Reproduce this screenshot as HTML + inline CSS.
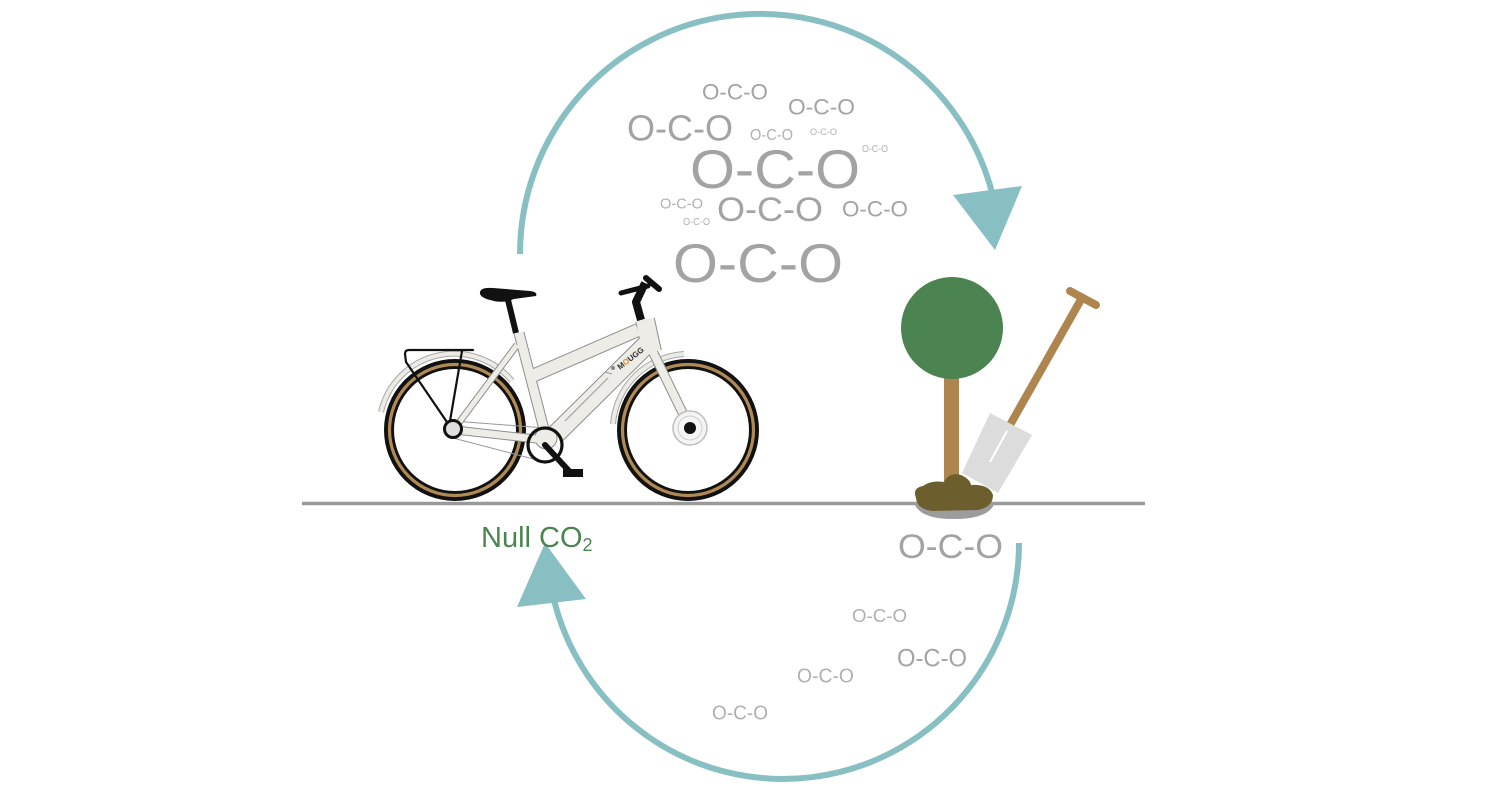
<!DOCTYPE html>
<html>
<head>
<meta charset="utf-8">
<style>
  html,body{margin:0;padding:0;background:#fff;}
  body{width:1500px;height:795px;overflow:hidden;}
  svg{display:block;}
  .m{font-family:"Liberation Sans",sans-serif;fill:#a3a3a3;}
  .s{fill:#b0b0b0;}
</style>
</head>
<body>
<svg width="1500" height="795" viewBox="0 0 1500 795" xmlns="http://www.w3.org/2000/svg">
  <!-- cycle arcs -->
  <path d="M520,254 A240 240 0 0 1 992.4,194" fill="none" stroke="#88bfc3" stroke-width="6"/>
  <polygon points="953,195 1022,186 995,250" fill="#88bfc3"/>
  <path d="M1019,543 A236 236 0 0 1 554,600" fill="none" stroke="#88bfc3" stroke-width="6"/>
  <polygon points="517,607 586,599 545,543" fill="#88bfc3"/>

  <!-- molecules top -->
  <text class="m" x="702" y="99.5" font-size="22.5" textLength="66" lengthAdjust="spacingAndGlyphs">O-C-O</text>
  <text class="m" x="788" y="114.5" font-size="22.5" textLength="67" lengthAdjust="spacingAndGlyphs">O-C-O</text>
  <text class="m" x="627" y="140.5" font-size="36" textLength="106" lengthAdjust="spacingAndGlyphs">O-C-O</text>
  <text class="m s" x="750" y="140" font-size="16" textLength="43" lengthAdjust="spacingAndGlyphs">O-C-O</text>
  <text class="m s" x="810" y="135" font-size="9.5" textLength="27" lengthAdjust="spacingAndGlyphs">O-C-O</text>
  <text class="m s" x="862" y="152" font-size="10.5" textLength="26" lengthAdjust="spacingAndGlyphs">O-C-O</text>
  <text class="m" x="690" y="188" font-size="55" textLength="170" lengthAdjust="spacingAndGlyphs">O-C-O</text>
  <text class="m s" x="660" y="208.5" font-size="14.5" textLength="43" lengthAdjust="spacingAndGlyphs">O-C-O</text>
  <text class="m" x="717" y="221" font-size="34.5" textLength="106" lengthAdjust="spacingAndGlyphs">O-C-O</text>
  <text class="m" x="842" y="216.5" font-size="22.5" textLength="66" lengthAdjust="spacingAndGlyphs">O-C-O</text>
  <text class="m s" x="683" y="225" font-size="10.5" textLength="27" lengthAdjust="spacingAndGlyphs">O-C-O</text>
  <text class="m" x="673" y="282" font-size="55" textLength="170" lengthAdjust="spacingAndGlyphs">O-C-O</text>

  <!-- molecules bottom -->
  <text class="m" x="898" y="558" font-size="34.5" textLength="105" lengthAdjust="spacingAndGlyphs">O-C-O</text>
  <text class="m s" x="852" y="622" font-size="18.5" textLength="55" lengthAdjust="spacingAndGlyphs">O-C-O</text>
  <text class="m" x="897" y="666.5" font-size="25" textLength="70" lengthAdjust="spacingAndGlyphs">O-C-O</text>
  <text class="m s" x="797" y="682.5" font-size="20" textLength="57" lengthAdjust="spacingAndGlyphs">O-C-O</text>
  <text class="m s" x="712" y="719.5" font-size="20" textLength="56" lengthAdjust="spacingAndGlyphs">O-C-O</text>

  <!-- Null CO2 -->
  <text x="481" y="547" font-family="Liberation Sans, sans-serif" font-size="29" fill="#4a8550">Null CO<tspan font-size="18" dy="4">2</tspan></text>

  <!-- ground -->
  <line x1="302" y1="503.5" x2="1145" y2="503.5" stroke="#9a9a9a" stroke-width="3.5"/>

  <!-- ===== BIKE ===== -->
  <!-- fenders -->
  <path d="M381,412 A75 75 0 0 1 512,381" fill="none" stroke="#a8a8a8" stroke-width="6"/>
  <path d="M381,412 A75 75 0 0 1 512,381" fill="none" stroke="#ecebe5" stroke-width="4"/>
  <path d="M613,424 A76 76 0 0 1 684,354" fill="none" stroke="#a8a8a8" stroke-width="6"/>
  <path d="M613,424 A76 76 0 0 1 684,354" fill="none" stroke="#ecebe5" stroke-width="4"/>

  <!-- wheels -->
  <circle cx="455" cy="430" r="66" fill="none" stroke="#111" stroke-width="10"/>
  <circle cx="455" cy="430" r="65.5" fill="none" stroke="#b08a55" stroke-width="3.2"/>
  <circle cx="688" cy="430" r="66" fill="none" stroke="#111" stroke-width="10"/>
  <circle cx="688" cy="430" r="65.5" fill="none" stroke="#b08a55" stroke-width="3.2"/>

  <!-- chain -->
  <line x1="453" y1="421" x2="545" y2="428" stroke="#999" stroke-width="1"/>
  <line x1="453" y1="438" x2="545" y2="462" stroke="#999" stroke-width="1"/>

  <!-- rack -->
  <g stroke="#111" stroke-width="2.2" fill="none" stroke-linecap="round">
    <path d="M473,350 L409,350 Q405,350 405,354 L406,362 L449,425"/>
    <line x1="462" y1="351" x2="450" y2="421"/>
  </g>

  <!-- frame outlines -->
  <g stroke="#8d8d8d" fill="none" stroke-linecap="butt">
    <line x1="517" y1="345" x2="455" y2="428" stroke-width="7"/>
    <line x1="545" y1="440" x2="455" y2="430" stroke-width="9"/>
    <line x1="519" y1="333" x2="546" y2="437" stroke-width="11"/>
    <line x1="638" y1="330" x2="530" y2="377" stroke-width="14"/>
    <line x1="648" y1="343" x2="556" y2="434" stroke-width="20"/>
    <line x1="645" y1="320" x2="652" y2="352" stroke-width="20"/>
    <line x1="652" y1="350" x2="690" y2="428" stroke-width="10"/>
    <circle cx="546" cy="438" r="11" fill="#8d8d8d"/>
  </g>
  <!-- frame fills -->
  <g stroke="#edece6" fill="none" stroke-linecap="butt">
    <line x1="517" y1="345" x2="455" y2="428" stroke-width="5"/>
    <line x1="545" y1="440" x2="455" y2="430" stroke-width="7"/>
    <line x1="519" y1="333" x2="546" y2="437" stroke-width="9"/>
    <line x1="638" y1="330" x2="530" y2="377" stroke-width="12"/>
    <line x1="648" y1="343" x2="556" y2="434" stroke-width="18"/>
    <line x1="645" y1="320" x2="652" y2="352" stroke-width="18"/>
    <line x1="652" y1="350" x2="690" y2="428" stroke-width="8"/>
    <circle cx="546" cy="438" r="10" fill="#edece6"/>
  </g>
  <!-- down tube battery line -->
  <path d="M608,378 L565,421 M612,374 L605,372" stroke="#9a9a9a" stroke-width="1" fill="none"/>
  <circle cx="613" cy="368" r="2" fill="#888"/>
  <text x="620" y="370" font-family="Liberation Sans, sans-serif" font-size="8" font-weight="bold" fill="#333" transform="rotate(-38 620 370)">M<tspan fill="#e08a2a">O</tspan>UGG</text>

  <!-- hubs -->
  <circle cx="453" cy="429" r="8.5" fill="#dedede" stroke="#111" stroke-width="3"/>
  <circle cx="690" cy="428" r="17" fill="#f4f4f4" stroke="#bdbdbd" stroke-width="1.5"/>
  <circle cx="690" cy="428" r="12" fill="none" stroke="#cfcfcf" stroke-width="1"/>
  <circle cx="690" cy="428" r="6" fill="#111"/>

  <!-- chainring / crank -->
  <circle cx="545" cy="445" r="17" fill="none" stroke="#111" stroke-width="3.2"/>
  <line x1="545" y1="445" x2="570" y2="472" stroke="#111" stroke-width="6" stroke-linecap="round"/>
  <rect x="563" y="469" width="20" height="8" fill="#111"/>

  <!-- seatpost & saddle -->
  <line x1="508" y1="300" x2="516" y2="333" stroke="#111" stroke-width="6"/>
  <path d="M480,292 Q481,287 493,288 L530,291 Q538,292 536,296 L514,299 Q502,304 490,300 Q479,297 480,292 Z" fill="#111"/>

  <!-- stem & handlebar -->
  <path d="M641,320 L636,302 L645,283" fill="none" stroke="#111" stroke-width="8" stroke-linejoin="round"/>
  <line x1="621" y1="293" x2="648" y2="286" stroke="#111" stroke-width="5" stroke-linecap="round"/>
  <line x1="646" y1="278" x2="659" y2="289" stroke="#111" stroke-width="6" stroke-linecap="round"/>

  <!-- ===== TREE & SHOVEL ===== -->
  <path d="M914,502 Q918,519 954,519 Q990,519 995,502 Z" fill="#9c9c9c"/>
  <rect x="944" y="374" width="15" height="118" fill="#ae854e"/>
  <circle cx="952" cy="328" r="51" fill="#4b8450"/>
  <line x1="1083" y1="296" x2="1010" y2="425" stroke="#ae854e" stroke-width="8"/>
  <line x1="1070" y1="291" x2="1096" y2="305" stroke="#ae854e" stroke-width="8" stroke-linecap="round"/>
  <polygon points="990,413 1032,435 998,493 962,473" fill="#dcdcdc"/>
  <line x1="1007" y1="431" x2="990" y2="462" stroke="#fff" stroke-width="2"/>
  <path d="M916,498 Q912,488 923,486 Q931,480 944,482 Q949,472 961,475 Q970,479 971,485 Q989,484 993,495 Q993,507 978,510 L932,511 Q917,509 916,498 Z" fill="#6d5f2d"/>
</svg>
</body>
</html>
